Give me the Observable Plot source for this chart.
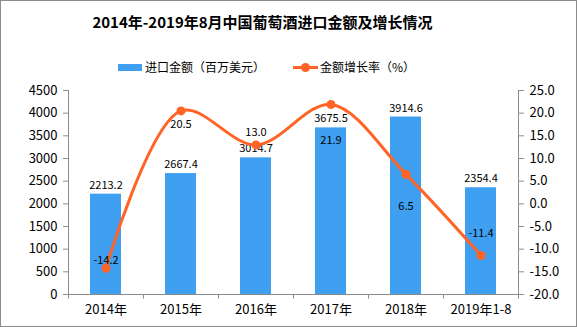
<!DOCTYPE html>
<html>
<head>
<meta charset="utf-8">
<script src="https://cdn.jsdelivr.net/npm/d3@7"></script>
<script src="https://cdn.jsdelivr.net/npm/@observablehq/plot@0.6"></script>
<style>
  html, body { margin: 0; padding: 0; background: #fff; }
  #frame { position: relative; width: 575px; height: 325px; border: 1px solid #8c8c8c; overflow: hidden;
           font-family: "Noto Sans CJK SC", "Noto Sans", sans-serif; color: #000; }
  #title { position: absolute; left: 0; width: 523px; top: 11px; text-align: center; font-size: 15px; font-weight: bold; line-height: 20px; white-space: nowrap; }
  .leg { position: absolute; top: 58px; font-size: 12px; line-height: 16px; white-space: nowrap; display: flex; align-items: center; }
  .sw-bar { width: 24px; height: 7px; background: #3f9ff1; margin-right: 3px; }
  .sw-line { position: relative; width: 25px; height: 8px; margin-right: 2px; }
  .sw-line::before { content: ""; position: absolute; left: 0; right: 0; top: 3px; height: 3px; background: #ff6325; }
  .sw-line::after { content: ""; position: absolute; left: 8px; top: 0; width: 9px; height: 9px; border-radius: 50%; background: #ff6325; }
  #chart { position: absolute; left: 0; top: 0; }
</style>
</head>
<body>
<div id="frame">
  <div id="title">2014年-2019年8月中国葡萄酒进口金额及增长情况</div>
  <div class="leg" style="left:117px"><span class="sw-bar"></span><span id="leg1"></span></div>
  <div class="leg" style="left:292px"><span class="sw-line"></span><span id="leg2"></span></div>
  <div id="chart"></div>
</div>
<script>
const years = ["2014年", "2015年", "2016年", "2017年", "2018年", "2019年1-8"];
const amounts = [2213.2, 2667.4, 3014.7, 3675.5, 3914.6, 2354.4];
const growth = [-14.2, 20.5, 13.0, 21.9, 6.5, -11.4];
const leftTicks = [0, 500, 1000, 1500, 2000, 2500, 3000, 3500, 4000, 4500];
const rightTicks = [-20, -15, -10, -5, 0, 5, 10, 15, 20, 25];
const seriesNames = ["进口金额（百万美元）", "金额增长率（%）"];
const growthLabelDy = [-8, 14, -12, 36, 32, -22];

document.getElementById("leg1").textContent = seriesNames[0];
document.getElementById("leg2").textContent = seriesNames[1];

const lMax = 4500, rMin = -20, rMax = 25;
const toLeft = v => (v - rMin) * lMax / (rMax - rMin);
const fromLeft = d => Math.round((d * (rMax - rMin) / lMax + rMin) * 10) / 10;

const rows = years.map((y, i) => ({year: y, amount: amounts[i], growth: growth[i], gy: toLeft(growth[i]), dy: growthLabelDy[i]}));

const W = 575, H = 325, mL = 67, mR = 58, mT = 89, mB = 32;
const step = (W - mL - mR) / years.length;
const blue = "#3f9ff1", orange = "#ff6325", axisColor = "#8c8c8c";

const chart = Plot.plot({
  width: W, height: H,
  marginLeft: mL, marginRight: mR, marginTop: mT, marginBottom: mB,
  style: {fontFamily: "'Noto Sans CJK SC', sans-serif", fontSize: "12px", color: "#000", background: "transparent"},
  x: {domain: years, padding: 0},
  y: {domain: [0, lMax]},
  marks: [
    Plot.barY(rows, {x: "year", y: "amount", fill: blue, insetLeft: 22, insetRight: 22}),
    Plot.text(rows, {x: "year", y: "amount", text: d => d.amount.toFixed(1), dy: -9, fontSize: 11, fill: "#000"}),
    Plot.line(rows, {x: "year", y: "gy", stroke: orange, strokeWidth: 3, curve: "catmull-rom"}),
    Plot.dot(rows, {x: "year", y: "gy", fill: orange, r: 4.5}),
    ...rows.map(r => Plot.text([r], {x: "year", y: "gy", text: d => d.growth.toFixed(1), dy: r.dy, fontSize: 11, fill: "#000"})),
    Plot.frame({anchor: "left", stroke: axisColor}),
    Plot.frame({anchor: "right", stroke: axisColor}),
    Plot.frame({anchor: "bottom", stroke: axisColor}),
    Plot.ruleX(years, {x: d => d, dx: -step / 2, y1: 0, y2: -100, stroke: axisColor}),
    Plot.ruleX([years[years.length - 1]], {x: d => d, dx: step / 2, y1: 0, y2: -100, stroke: axisColor}),
    Plot.axisY({anchor: "left", ticks: leftTicks, tickFormat: d => String(d), tickSize: 5, tickPadding: 6, fontSize: 13, stroke: axisColor, fill: "#000", label: null}),
    Plot.axisY({anchor: "right", ticks: rightTicks.map(toLeft), tickFormat: d => fromLeft(d).toFixed(1), tickSize: 5, tickPadding: 6, fontSize: 13, stroke: axisColor, fill: "#000", label: null}),
    Plot.axisX({anchor: "bottom", tickSize: 0, tickPadding: 10, fontSize: 13, fill: "#000", label: null})
  ]
});
document.getElementById("chart").appendChild(chart);
</script>
</body>
</html>
